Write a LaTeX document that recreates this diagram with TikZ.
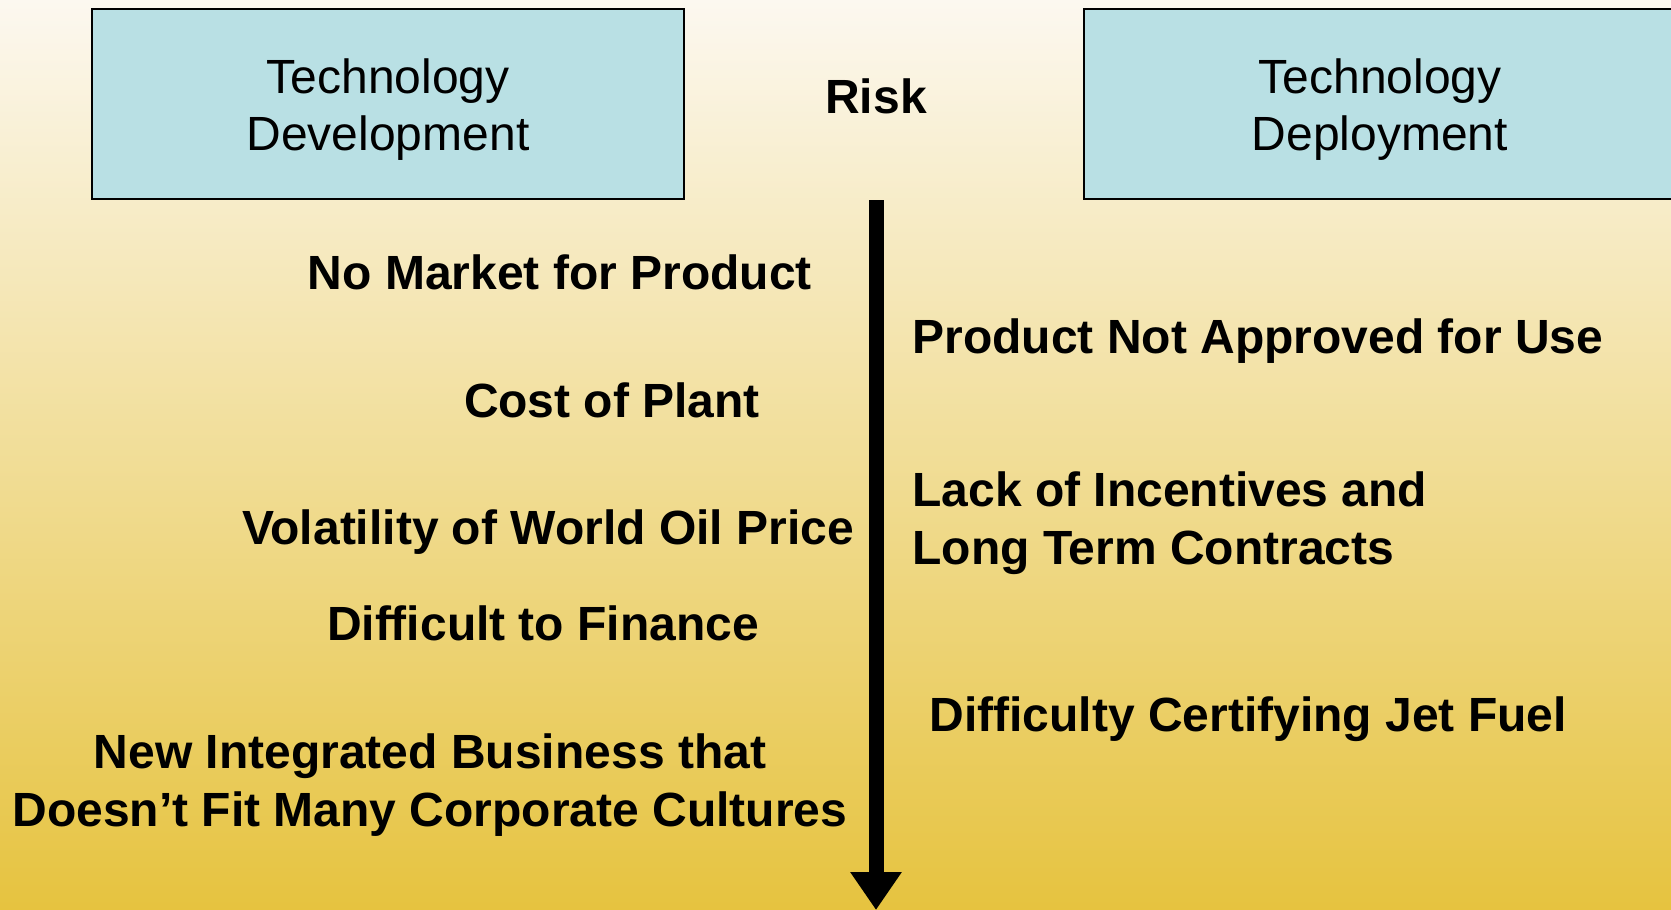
\documentclass[tikz,border=0pt]{standalone}
\usepackage{fontspec}
\setmainfont{Liberation Sans}
\usetikzlibrary{positioning,arrows.meta}

\definecolor{boxblue}{HTML}{B9E0E4}
\definecolor{bgtop}{HTML}{FCF8F0}
\definecolor{bgmid}{HTML}{F0DAA2}
\definecolor{bgbot}{HTML}{E6C33F}

\begin{document}
\begin{tikzpicture}[x=0.5pt, y=-0.5pt,
  > = {Triangle[width=24.5pt,length=19pt]},
  stage/.style={draw, line width=1pt, fill=boxblue, minimum width=296pt, minimum height=95pt,
    align=center, inner sep=0pt, font=\fontsize{24}{28.75}\selectfont},
  risk/.style={anchor=base, inner sep=0pt, font=\fontsize{24}{28.75}\selectfont\bfseries}]
\fill[top color=bgtop, middle color=bgmid, bottom color=bgbot] (0,0) rectangle (1671,910);
\useasboundingbox (0,0) rectangle (1671,910);

\node (dev) [stage] at (388,104) {\rule{0pt}{23pt}Technology\\Development};
\node (dep) [stage] at (1380,104) {\rule{0pt}{23pt}Technology\\Deployment};
\node (risk) [risk] at (876,113) {Risk};

% development side
\node (market) [risk] at (560,289) {No Market for Product};
\node (plant) [risk] at (612,417) {Cost of Plant};
\node (oil) [risk] at (548,544) {Volatility of World Oil Price};
\node (finance) [risk] at (543,640) {Difficult to Finance};
\node (culture) [risk, anchor=center, align=center] at (430,785) {New Integrated Business that\\Doesn’t Fit Many Corporate Cultures};

% deployment side
\node (approved) [risk, anchor=base west] at (912,353) {Product Not Approved for Use};
\node (incent) [risk, anchor=west, align=left] at (912,523) {Lack of Incentives and\\Long Term Contracts};
\node (jetfuel) [risk, anchor=base west] at (929,731) {Difficulty Certifying Jet Fuel};

\coordinate (axtop) at (876,200);
\coordinate (axend) at (876,910);
\draw[->, line width=7.5pt] (axtop) -- (axend);
\end{tikzpicture}
\end{document}
